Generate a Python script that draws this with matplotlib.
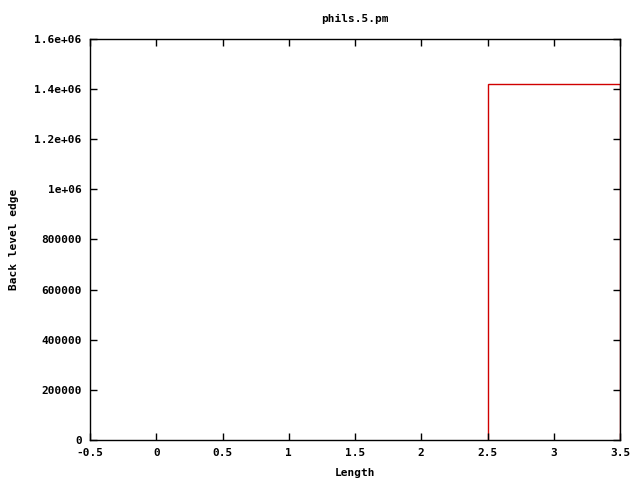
import numpy as np
import matplotlib
matplotlib.use("Agg")
import matplotlib.pyplot as plt

# histogram-step data (gnuplot histeps style)
lengths = np.array([3.0])
back_edge = np.array([1.42e6])

plt.rcParams['font.family'] = 'DejaVu Sans Mono'
plt.rcParams['font.weight'] = 'bold'
plt.rcParams['font.size'] = 8

fig = plt.figure(figsize=(6.4, 4.8), dpi=100)
ax = fig.add_axes([90/640, 40/480, 530/640, 401/480])

edges = np.concatenate([lengths - 0.5, [lengths[-1] + 0.5]])
ax.stairs(back_edge, edges, color='#d00000', linewidth=1.0, baseline=0)

ax.set_xlim(-0.5, 3.5)
ax.set_ylim(0, 1.6e6)
ax.set_xticks(np.arange(-0.5, 3.51, 0.5))
ax.set_xticklabels(['-0.5', '0', '0.5', '1', '1.5', '2', '2.5', '3', '3.5'])
yt = np.arange(0, 1.61e6, 2e5)
ax.set_yticks(yt)
ax.set_yticklabels(['0', '200000', '400000', '600000', '800000', '1e+06',
                    '1.2e+06', '1.4e+06', '1.6e+06'])
ax.tick_params(direction='in', top=True, right=True, length=5, width=1, pad=6)
for s in ax.spines.values():
    s.set_linewidth(1)

ax.set_title('phils.5.pm', fontsize=8, fontweight='bold', pad=12)
ax.set_xlabel('Length', fontweight='bold', labelpad=7)
ax.set_ylabel('Back level edge', fontweight='bold', labelpad=11)

fig.savefig('out.png', dpi=100)
